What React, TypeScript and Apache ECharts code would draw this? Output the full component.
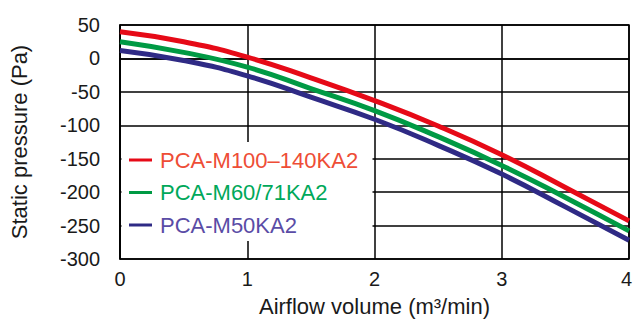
import React, { useEffect, useRef } from "react";
import * as echarts from "echarts";

const airflow = [0, 0.5, 1, 1.5, 2, 2.5, 3, 3.5, 4];
const seriesNames = ["PCA-M100–140KA2", "PCA-M60/71KA2", "PCA-M50KA2"];
const pcaM100Values = [40, 25, 2, -29, -63, -101, -144, -193, -243];
const pcaM60Values = [25, 9, -13, -45, -78, -117, -160, -208, -258];
const pcaM50Values = [12, -3, -26, -58, -91, -130, -173, -222, -272];
const lineColors = ["#E60A17", "#009A44", "#2F2A85"];
const legendTextColors = ["#EE4D36", "#00A85A", "#5A4CA6"];

const FONT = "'Liberation Sans', Arial, Helvetica, sans-serif";
const X_MAX = 4;

export default function App() {
  const ref = useRef<HTMLDivElement>(null);
  useEffect(() => {
    if (!ref.current) return;
    const chart = echarts.init(ref.current, undefined, { renderer: "svg" });
    const allValues = [pcaM100Values, pcaM60Values, pcaM50Values];
    chart.setOption({
      animation: false,
      backgroundColor: "#fff",
      textStyle: { fontFamily: FONT },
      grid: {
        left: 120,
        right: 4,
        top: 25,
        bottom: 61,
        show: true,
        borderColor: "#000",
        borderWidth: 1.5,
        outerBoundsMode: "none",
        containLabel: false,
      },
      xAxis: {
        type: "value",
        min: 0,
        max: X_MAX,
        interval: 1,
        name: "Airflow volume (m³/min)",
        nameLocation: "middle",
        nameGap: 36,
        nameTextStyle: { fontSize: 22, color: "#1a1a1a", fontFamily: FONT },
        axisLine: { lineStyle: { color: "#000", width: 1.5 } },
        axisTick: { show: false },
        axisLabel: {
          fontSize: 20,
          color: "#1a1a1a",
          margin: 10,
          fontFamily: FONT,
          formatter: (v: number) => (v === X_MAX ? `{last|${v}}` : `${v}`),
          rich: {
            last: {
              fontSize: 20,
              color: "#1a1a1a",
              fontFamily: FONT,
              padding: [0, 5, 0, 0],
            },
          },
        },
        splitLine: { show: true, lineStyle: { color: "#000", width: 1.5 } },
      },
      yAxis: {
        type: "value",
        min: -300,
        max: 50,
        interval: 50,
        name: "Static pressure (Pa)",
        nameLocation: "middle",
        nameGap: 90,
        nameTextStyle: { fontSize: 22, color: "#1a1a1a", fontFamily: FONT },
        axisLine: { show: true, lineStyle: { color: "#000", width: 1.5 } },
        axisTick: { show: false },
        axisLabel: { fontSize: 20, color: "#1a1a1a", margin: 20, fontFamily: FONT },
        splitLine: { show: true, lineStyle: { color: "#000", width: 1.5 } },
      },
      graphic: [
        {
          type: "rect",
          z: 3,
          shape: { x: 121.5, y: 142, width: 251, height: 99 },
          style: { fill: "#fff" },
        },
      ],
      legend: {
        z: 10,
        orient: "vertical",
        left: 129,
        top: 149,
        padding: 0,
        itemWidth: 23,
        itemHeight: 3,
        itemGap: 10.5,
        icon: "rect",
        textStyle: { fontSize: 22, fontFamily: FONT, padding: [0, 0, 0, 3] },
        data: seriesNames.map((n, i) => ({
          name: n,
          textStyle: { color: legendTextColors[i] },
        })),
      },
      series: seriesNames.map((n, i) => ({
        name: n,
        type: "line",
        smooth: true,
        symbol: "none",
        color: lineColors[i],
        lineStyle: { width: 5, color: lineColors[i] },
        data: airflow.map((x, j) => [x, allValues[i][j]]),
      })),
    });
    return () => chart.dispose();
  }, []);
  return (
    <div
      ref={ref}
      style={{ position: "fixed", left: 0, top: 0, width: 633, height: 320 }}
    />
  );
}
